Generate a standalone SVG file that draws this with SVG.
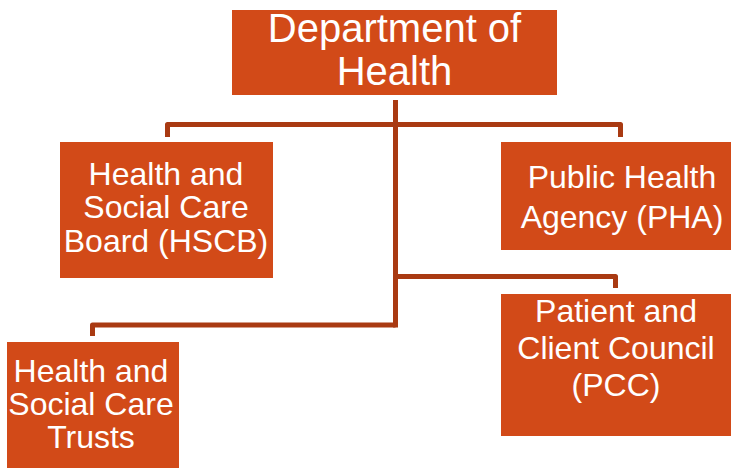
<svg xmlns="http://www.w3.org/2000/svg" width="731" height="468" viewBox="0 0 731 468">
  <style>
    .box { fill: #D24A18; }
    .lbl { font-family: "Liberation Sans", Arial, sans-serif; font-size: 32px; fill: #ffffff; text-anchor: middle; }
    .title { font-size: 40px; }
    .link { fill: none; stroke: #A93A12; stroke-width: 5; stroke-linejoin: round; stroke-linecap: butt; }
  </style>
  <rect width="731" height="468" fill="#ffffff"/>

  <!-- connectors -->
  <g id="connectors">
    <path class="link" d="M395.5,100 V327.5"/>
    <path class="link" d="M395.5,124.5 H167.5 V137"/>
    <path class="link" d="M395.5,124.5 H620.5 V137"/>
    <path class="link" d="M395.5,276.5 H615.5 V288"/>
    <path class="link" d="M395.5,325 H92.5 V336"/>
  </g>

  <g id="doh">
    <rect class="box" x="232" y="10" width="325" height="85"/>
    <text class="lbl title" x="394.5" y="42">Department of</text>
    <text class="lbl title" x="394.5" y="85">Health</text>
  </g>

  <g id="hscb">
    <rect class="box" x="60" y="142" width="213" height="136"/>
    <text class="lbl" x="166" y="185">Health and</text>
    <text class="lbl" x="166" y="218">Social Care</text>
    <text class="lbl" x="166" y="252">Board (HSCB)</text>
  </g>

  <g id="pha">
    <rect class="box" x="501" y="142" width="230" height="108"/>
    <text class="lbl" x="622" y="188">Public Health</text>
    <text class="lbl" x="622" y="228">Agency (PHA)</text>
  </g>

  <g id="pcc">
    <rect class="box" x="501" y="294" width="230" height="142"/>
    <text class="lbl" x="616" y="322">Patient and</text>
    <text class="lbl" x="616" y="359">Client Council</text>
    <text class="lbl" x="616" y="396">(PCC)</text>
  </g>

  <g id="trusts">
    <rect class="box" x="7" y="342" width="172" height="126"/>
    <text class="lbl" x="91" y="382">Health and</text>
    <text class="lbl" x="91" y="415">Social Care</text>
    <text class="lbl" x="91" y="448">Trusts</text>
  </g>
</svg>
